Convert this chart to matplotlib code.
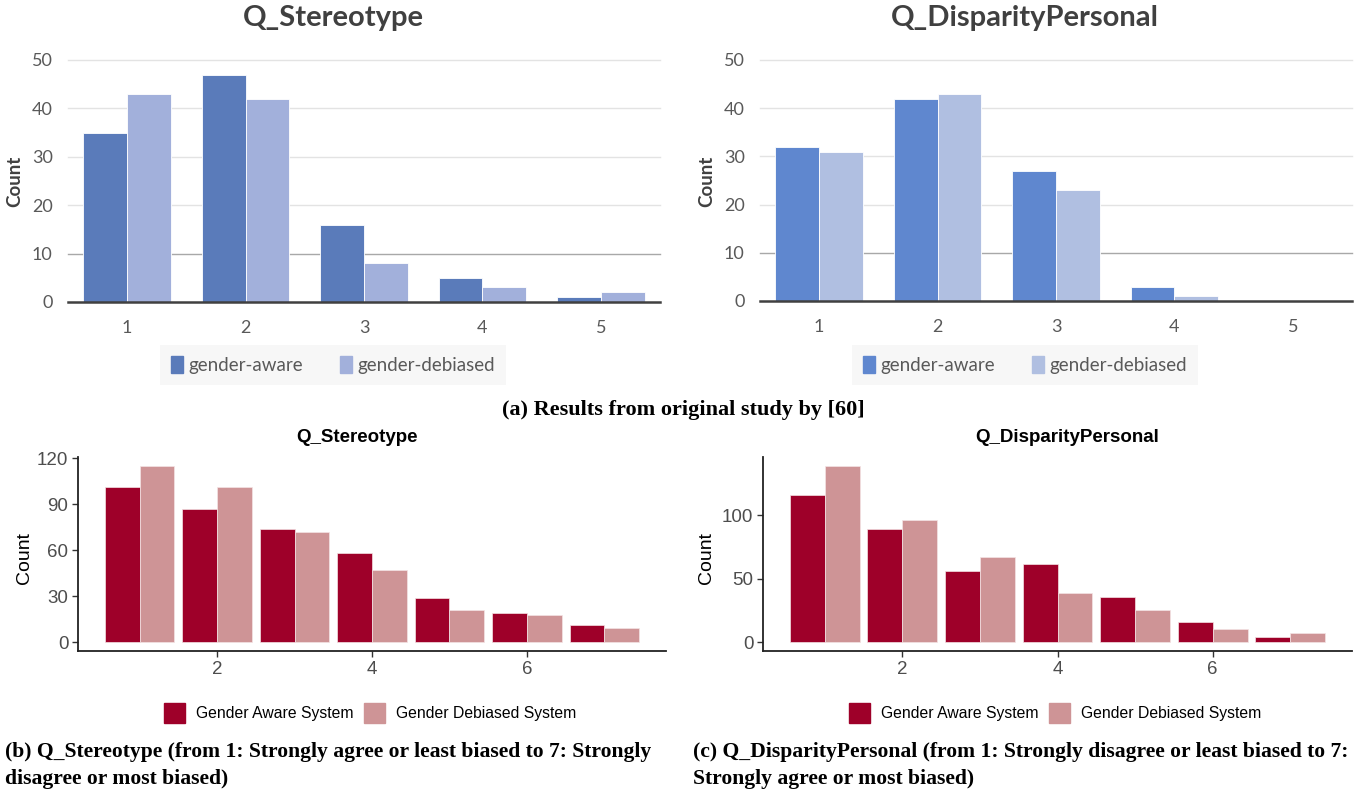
import matplotlib.pyplot as plt
from matplotlib.patches import Patch
import numpy as np

# (a) original study, 5-point scale
orig_cats = [1, 2, 3, 4, 5]
orig_stereo_aware = [35, 47, 16, 5, 1]
orig_stereo_debiased = [43, 42, 8, 3, 2]
orig_disp_aware = [32, 42, 27, 3, 0]
orig_disp_debiased = [31, 43, 23, 1, 0]

# (b), (c) replication, 7-point scale
rep_cats = [1, 2, 3, 4, 5, 6, 7]
rep_stereo_aware = [101, 87, 74, 58, 29, 19, 11]
rep_stereo_debiased = [115, 101, 72, 47, 21, 18, 9]
rep_disp_aware = [116, 89, 56, 62, 36, 16, 4]
rep_disp_debiased = [139, 96, 67, 39, 25, 10, 7]

W, H = 1366, 792
fig = plt.figure(figsize=(W / 100, H / 100), dpi=100)


def px_axes(left, top, right, bottom):
    return fig.add_axes([left / W, 1 - bottom / H, (right - left) / W, (bottom - top) / H])


def excel_chart(box, title, title_x, ylabel_x, aware, debiased, c_aware, c_deb):
    ax = px_axes(*box)
    x = np.array(orig_cats)
    w = 0.37
    ax.bar(x - w / 2, aware, w, color=c_aware, edgecolor='white', linewidth=0.6, zorder=3)
    ax.bar(x + w / 2, debiased, w, color=c_deb, edgecolor='white', linewidth=0.6, zorder=3)
    ax.set_xlim(0.5, 5.5)
    ax.set_ylim(0, 50)
    for yv in range(0, 51, 10):
        if yv == 0:
            col, lw = '#404040', 1.8
        elif yv == 10:
            col, lw = '#A8A8A8', 1.0
        else:
            col, lw = '#E3E3E3', 1.0
        ax.axhline(yv, color=col, lw=lw, zorder=2 if yv else 4, clip_on=False)
    for s in ax.spines.values():
        s.set_visible(False)
    ax.set_yticks(range(0, 51, 10))
    ax.set_xticks(orig_cats)
    ax.tick_params(length=0, labelsize=13, labelcolor='#595959')
    ax.tick_params(axis='y', pad=11)
    ax.tick_params(axis='x', pad=13)
    for lab in ax.get_xticklabels() + ax.get_yticklabels():
        lab.set_family('Lato')
    fig.text(title_x / W, 1 - 18 / H, title, ha='center', va='center',
             fontsize=21, fontweight='bold', color='#404040', family='Lato')
    fig.text(ylabel_x / W, 1 - 181 / H, 'Count', rotation=90, ha='center', va='center',
             fontsize=13.5, fontweight='bold', color='#404040', family='Lato')
    handles = [Patch(color=c_aware, label='gender-aware'), Patch(color=c_deb, label='gender-debiased')]
    leg = fig.legend(handles=handles, loc='center', bbox_to_anchor=(title_x / W, 1 - 365 / H),
                     ncol=2, frameon=True, fancybox=False, handlelength=0.6, handleheight=1.0,
                     handletextpad=0.3, columnspacing=2.0, borderpad=0.6,
                     prop={'family': 'Lato', 'size': 13.5})
    leg.get_frame().set_facecolor('#F5F5F5')
    leg.get_frame().set_edgecolor('none')
    for t in leg.get_texts():
        t.set_color('#595959')
    return ax


def gg_chart(box, title, title_x, ylabel_x, aware, debiased, ylim, yticks, legend_x):
    ax = px_axes(*box)
    x = np.array(rep_cats)
    w = 0.45
    c_aware, c_deb = '#9E0029', '#CE9496'
    ax.bar(x - w / 2, aware, w, color=c_aware, edgecolor='#F4E3E4', linewidth=0.5)
    ax.bar(x + w / 2, debiased, w, color=c_deb, edgecolor='#F4E3E4', linewidth=0.5)
    ax.set_xlim(0.205, 7.795)
    ax.set_ylim(*ylim)
    ax.set_xticks([2, 4, 6])
    ax.set_yticks(yticks)
    for s in ['top', 'right']:
        ax.spines[s].set_visible(False)
    for s in ['left', 'bottom']:
        ax.spines[s].set_color('#222222')
        ax.spines[s].set_linewidth(1.3)
    ax.tick_params(length=4, width=1, color='#333333', labelsize=13.5, labelcolor='#4D4D4D', pad=3)
    for lab in ax.get_xticklabels() + ax.get_yticklabels():
        lab.set_family('Liberation Sans')
    fig.text(title_x / W, 1 - 437 / H, title, ha='center', va='center',
             fontsize=13.5, fontweight='bold', color='black', family='Liberation Sans')
    fig.text(ylabel_x / W, 1 - 558 / H, 'Count', rotation=90, ha='center', va='center',
             fontsize=14, color='black', family='Liberation Sans')
    handles = [Patch(color=c_aware, label='Gender Aware System'),
               Patch(color=c_deb, label='Gender Debiased System')]
    fig.legend(handles=handles, loc='center', bbox_to_anchor=(legend_x / W, 1 - 713 / H),
               ncol=2, frameon=False, handlelength=1.3, handleheight=1.5,
               handletextpad=0.7, columnspacing=0.7,
               prop={'family': 'Liberation Sans', 'size': 11.3})
    return ax


excel_chart((68, 60, 660, 302), 'Q_Stereotype', 333, 15,
            orig_stereo_aware, orig_stereo_debiased, '#5A7BBA', '#A2B0DB')
excel_chart((760, 60, 1352, 301), 'Q_DisparityPersonal', 1025, 707,
            orig_disp_aware, orig_disp_debiased, '#5F87CF', '#B0BFE1')

gg_chart((78, 457, 666, 651), 'Q_Stereotype', 357, 24,
         rep_stereo_aware, rep_stereo_debiased, (-5.75, 120.75), [0, 30, 60, 90, 120], 370)
gg_chart((763, 457, 1352, 651), 'Q_DisparityPersonal', 1067, 707,
         rep_disp_aware, rep_disp_debiased, (-6.95, 145.95), [0, 50, 100], 1055)

cap = dict(fontweight='bold', family='Liberation Serif', color='black', va='center')
fig.text(683 / W, 1 - 410 / H, '(a) Results from original study by [60]', ha='center', fontsize=16, **cap)
fig.text(5 / W, 1 - 752 / H, '(b) Q_Stereotype (from 1: Strongly agree or least biased to 7: Strongly',
         ha='left', fontsize=15.6, **cap)
fig.text(5 / W, 1 - 779 / H, 'disagree or most biased)', ha='left', fontsize=15.6, **cap)
fig.text(693 / W, 1 - 752 / H, '(c) Q_DisparityPersonal (from 1: Strongly disagree or least biased to 7:',
         ha='left', fontsize=15.6, **cap)
fig.text(693 / W, 1 - 779 / H, 'Strongly agree or most biased)', ha='left', fontsize=15.6, **cap)

fig.savefig('out.png', dpi=100, facecolor='white')
